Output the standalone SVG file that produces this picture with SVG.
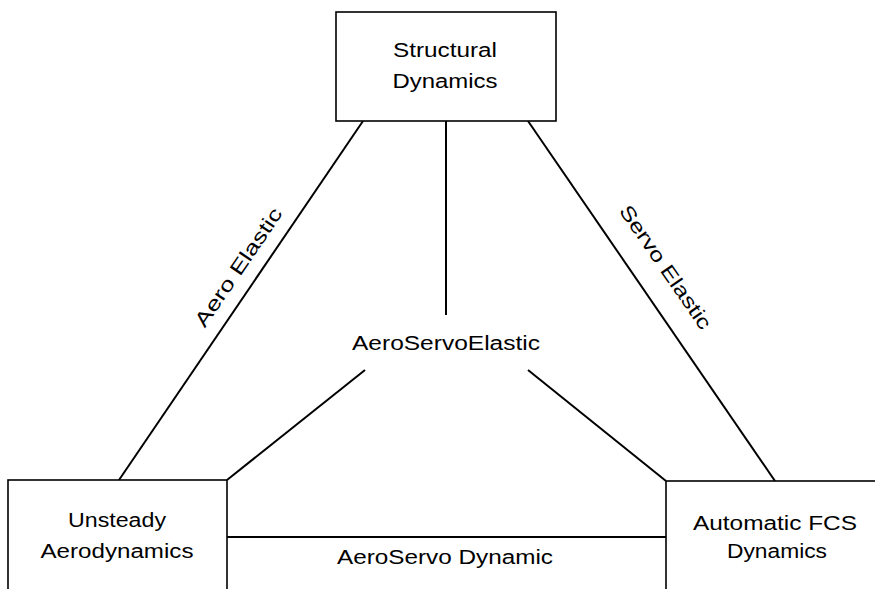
<svg xmlns="http://www.w3.org/2000/svg" width="875" height="589" viewBox="0 0 875 589">
<style>
.box{fill:#fff;stroke:#000;stroke-width:1.6}
.ln{stroke:#000;stroke-width:2;fill:none}
text{font-family:"Liberation Sans",Arial,sans-serif;font-size:20px;fill:#000;text-anchor:middle}
</style>
<rect width="875" height="589" fill="#fff"/>
<g id="connectors">
<line class="ln" x1="363" y1="121" x2="119" y2="480"/>
<line class="ln" x1="446" y1="121" x2="446" y2="315"/>
<line class="ln" x1="528" y1="121" x2="775" y2="481"/>
<line class="ln" x1="365" y1="370" x2="227" y2="480"/>
<line class="ln" x1="528" y1="370" x2="666" y2="481"/>
<line class="ln" x1="227" y1="537" x2="666" y2="537"/>
<text transform="translate(244,271) rotate(-55.7)" textLength="139" lengthAdjust="spacingAndGlyphs">Aero Elastic</text>
<text transform="translate(660,271) rotate(55.4)" textLength="146" lengthAdjust="spacingAndGlyphs">Servo Elastic</text>
<text x="446" y="350" textLength="188" lengthAdjust="spacingAndGlyphs">AeroServoElastic</text>
<text x="445" y="564" textLength="216" lengthAdjust="spacingAndGlyphs">AeroServo Dynamic</text>
</g>
<g id="structural">
<rect class="box" x="336" y="12" width="220" height="109"/>
<text x="445" y="57" textLength="104" lengthAdjust="spacingAndGlyphs">Structural</text>
<text x="445" y="88" textLength="105" lengthAdjust="spacingAndGlyphs">Dynamics</text>
</g>
<g id="unsteady">
<rect class="box" x="8" y="480" width="219" height="130"/>
<text x="117" y="527" textLength="98" lengthAdjust="spacingAndGlyphs">Unsteady</text>
<text x="117" y="558" textLength="153" lengthAdjust="spacingAndGlyphs">Aerodynamics</text>
</g>
<g id="fcs">
<rect class="box" x="666" y="481" width="230" height="130"/>
<text x="775" y="530" textLength="164" lengthAdjust="spacingAndGlyphs">Automatic FCS</text>
<text x="777" y="558" textLength="100" lengthAdjust="spacingAndGlyphs">Dynamics</text>
</g>
</svg>
